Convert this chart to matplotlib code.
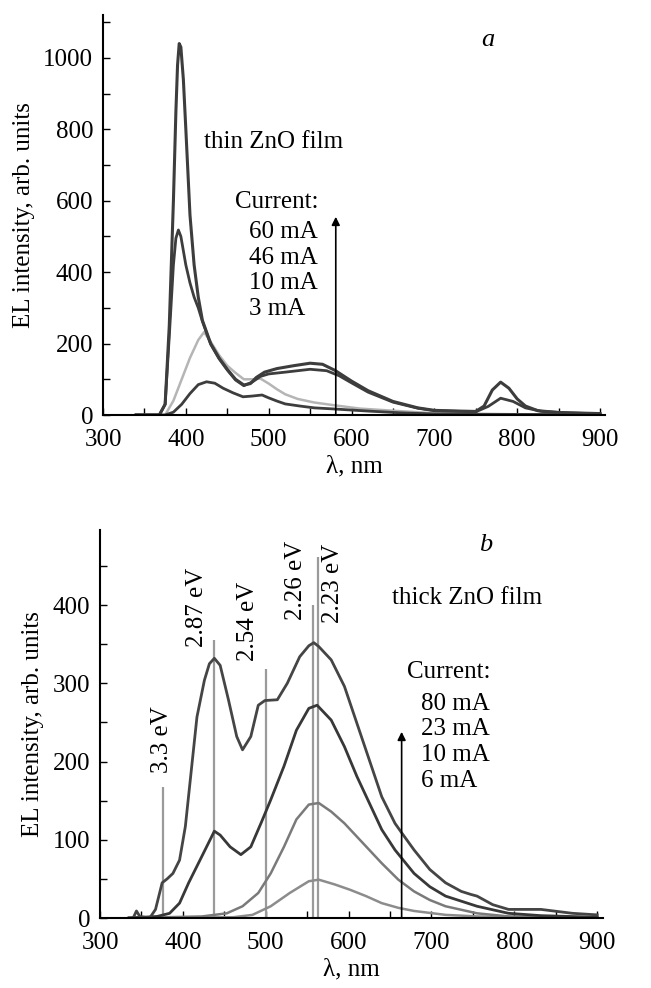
"""
EL spectra of thin and thick ZnO films at several drive currents.
Two stacked panels (a: thin film, b: thick film), values read off the figure.
"""

import matplotlib
matplotlib.use("Agg")
import matplotlib.pyplot as plt
from matplotlib.ticker import MultipleLocator

plt.rcParams["font.family"] = ["Liberation Serif", "DejaVu Serif"]
FS = 18

# ---- panel a: thin ZnO film (wavelength nm, intensity arb. units) ----
a60_wl = [340, 368, 375, 380, 385, 388, 390, 392, 394, 397, 400, 405, 410, 415, 420,
          430, 440, 450, 460, 470, 478, 485, 495, 510, 530, 550, 565, 580, 600, 620,
          650, 680, 700, 730, 750, 760, 770, 780, 790, 800, 810, 825, 850, 900]
a60_int = [0, 0, 30, 250, 600, 850, 980, 1040, 1030, 940, 800, 560, 420, 330, 265,
           200, 160, 128, 100, 84, 88, 105, 120, 130, 138, 145, 142, 125, 95, 68,
           38, 20, 13, 11, 10, 25, 70, 92, 75, 45, 25, 12, 7, 4]

a46_wl = [340, 368, 375, 380, 385, 388, 391, 394, 400, 405, 410, 415, 420, 430, 440,
          450, 460, 470, 480, 490, 500, 520, 550, 570, 585, 600, 620, 650, 680, 700,
          750, 765, 780, 795, 810, 830, 860, 900]
a46_int = [0, 0, 30, 220, 420, 495, 518, 500, 420, 370, 330, 300, 262, 198, 158,
           126, 98, 82, 92, 108, 115, 120, 128, 124, 110, 90, 64, 36, 19, 12,
           9, 24, 47, 38, 20, 10, 6, 3]

a10_wl = [340, 375, 385, 395, 405, 415, 422, 430, 440, 450, 460, 470, 480, 490, 500,
          510, 520, 535, 555, 580, 610, 650, 700, 750, 800, 900]
a10_int = [0, 0, 40, 100, 160, 210, 232, 205, 168, 138, 118, 100, 100, 102, 88,
           72, 58, 45, 35, 27, 18, 12, 5, 3, 2, 1]

a3_wl = [340, 375, 385, 395, 405, 415, 425, 435, 445, 457, 469, 480, 492, 500, 510,
         520, 538, 555, 578, 620, 660, 700, 750, 900]
a3_int = [0, 0, 8, 30, 60, 85, 93, 89, 75, 62, 51, 53, 56, 48, 39,
          31, 25, 20, 17, 11, 6, 3, 2, 1]

# ---- panel b: thick ZnO film ----
b80_wl = [335, 340, 344, 348, 360, 367, 375, 381, 388, 396, 403, 409, 417, 426, 432,
          438, 445, 455, 465, 472, 482, 491, 499, 514, 526, 541, 552, 558, 564, 579,
          595, 610, 625, 640, 656, 664, 679, 698, 717, 736, 748, 755, 774, 793, 832,
          870, 900]
b80_int = [0, 0, 9, 2, 0, 11, 45, 50, 57, 74, 117, 177, 257, 304, 325,
           332, 323, 279, 232, 215, 232, 272, 278, 279, 300, 334, 348, 352, 347, 330,
           296, 249, 202, 155, 121, 109, 87, 62, 45, 34, 30, 28, 17, 11, 11,
           6, 4]

b23_wl = [335, 369, 384, 396, 407, 423, 438, 445, 457, 470, 482, 495, 506, 522, 537,
          552, 562, 579, 595, 610, 625, 640, 656, 679, 698, 717, 755, 793, 832, 900]
b23_int = [0, 2, 6, 19, 45, 79, 111, 106, 91, 81, 91, 123, 151, 194, 240,
           268, 272, 253, 219, 181, 147, 113, 87, 57, 40, 28, 15, 6, 3, 1]

b10_wl = [335, 423, 453, 472, 491, 506, 522, 537, 552, 564, 579, 595, 610, 625, 640,
          660, 679, 698, 717, 755, 793, 900]
b10_int = [0, 2, 6, 15, 32, 57, 91, 126, 145, 147, 136, 121, 104, 87, 70,
           49, 34, 23, 15, 6, 2, 0]

b6_wl = [335, 461, 484, 506, 529, 552, 564, 583, 602, 621, 640, 660, 679, 717, 755, 900]
b6_int = [0, 1, 4, 15, 32, 47, 49, 43, 36, 28, 19, 13, 9, 4, 2, 0]

# marker lines in panel b: position (nm), top (arb. units), label
line_wl = [376, 437, 500, 557, 563]
line_top = [167, 356, 318, 400, 462]
label_text = ["3.3 eV", "2.87 eV", "2.54 eV", "2.26 eV", "2.23 eV"]
label_x = [375, 417, 479, 536, 581]
label_y = [185, 347, 328, 381, 377]

a_currents = ["60 mA", "46 mA", "10 mA", "3 mA"]
b_currents = ["80 mA", "23 mA", "10 mA", "6 mA"]

DARK = "#3d3d3d"


def style_axes(ax, ymajor, yminor):
    for side in ("top", "right"):
        ax.spines[side].set_visible(False)
    for side in ("left", "bottom"):
        ax.spines[side].set_linewidth(1.5)
    ax.xaxis.set_major_locator(MultipleLocator(100))
    ax.xaxis.set_minor_locator(MultipleLocator(50))
    ax.yaxis.set_major_locator(MultipleLocator(ymajor))
    ax.yaxis.set_minor_locator(MultipleLocator(yminor))
    ax.tick_params(which="both", direction="in", length=5, width=1.0,
                   labelsize=FS, top=False, right=False)
    ax.tick_params(axis="y", pad=7)
    ax.tick_params(axis="x", pad=10)
    ax.set_xlabel("λ, nm", fontsize=FS, labelpad=3)
    ax.set_ylabel("EL intensity, arb. units", fontsize=FS, labelpad=6)


fig = plt.figure(figsize=(6.51, 9.88), dpi=100)

# ---- panel a ----
ax1 = fig.add_axes([103 / 651, 573 / 988, 502 / 651, 400 / 988])
ax1.plot(a10_wl, a10_int, color="#b5b5b5", lw=1.8)
ax1.plot(a3_wl, a3_int, color=DARK, lw=2.0)
ax1.plot(a46_wl, a46_int, color=DARK, lw=2.0)
ax1.plot(a60_wl, a60_int, color=DARK, lw=2.2)
ax1.set_xlim(300, 906)
ax1.set_ylim(0, 1120)
style_axes(ax1, 200, 100)

ax1.text(765, 1050, "a", fontsize=FS + 1, style="italic", ha="center", va="center")
ax1.text(422, 765, "thin ZnO film", fontsize=FS, ha="left", va="center")
ax1.text(459, 597, "Current:", fontsize=FS, ha="left", va="center")
for i, lab in enumerate(a_currents):
    ax1.text(476, 513 - 72 * i, lab, fontsize=FS, ha="left", va="center")
ax1.annotate("", xy=(581, 555), xytext=(581, 0),
             arrowprops=dict(arrowstyle="-|>", color="black", lw=1.2,
                             mutation_scale=12, shrinkA=0, shrinkB=0))

# ---- panel b ----
ax2 = fig.add_axes([100 / 651, 70 / 988, 503 / 651, 388 / 988])
ax2.vlines(line_wl, 0, line_top, color="#9a9a9a", lw=1.6)
ax2.plot(b6_wl, b6_int, color="#8c8c8c", lw=1.8)
ax2.plot(b10_wl, b10_int, color="#7a7a7a", lw=1.8)
ax2.plot(b23_wl, b23_int, color="#383838", lw=2.0)
ax2.plot(b80_wl, b80_int, color="#454545", lw=2.0)
ax2.set_xlim(300, 907)
ax2.set_ylim(0, 496)
style_axes(ax2, 100, 50)

for x, y, t in zip(label_x, label_y, label_text):
    ax2.text(x, y, t, fontsize=FS, rotation=90, ha="center", va="bottom")
ax2.text(765, 477, "b", fontsize=FS + 1, style="italic", ha="center", va="center")
ax2.text(652, 409, "thick ZnO film", fontsize=FS, ha="left", va="center")
ax2.text(670, 315, "Current:", fontsize=FS, ha="left", va="center")
for i, lab in enumerate(b_currents):
    ax2.text(687, 274 - 33 * i, lab, fontsize=FS, ha="left", va="center")
ax2.annotate("", xy=(664, 238), xytext=(664, 0),
             arrowprops=dict(arrowstyle="-|>", color="black", lw=1.2,
                             mutation_scale=12, shrinkA=0, shrinkB=0))

fig.savefig("out.png", dpi=100)
